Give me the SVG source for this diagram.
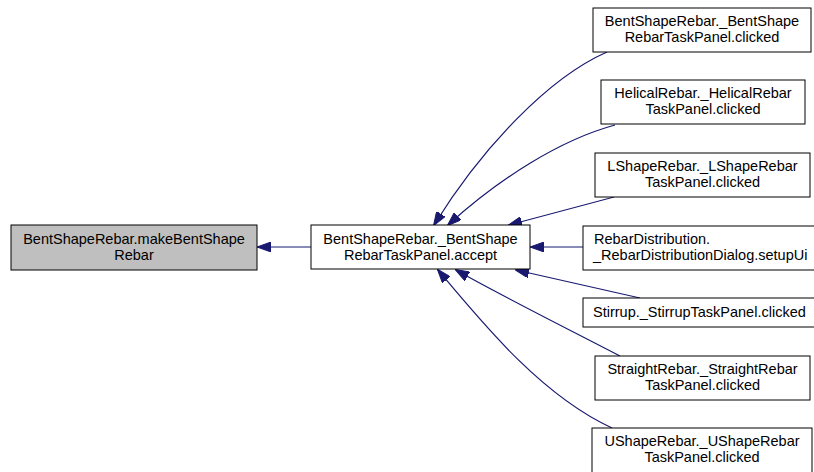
<svg xmlns="http://www.w3.org/2000/svg" width="814" height="472" viewBox="0 0 814 472">
  <style>
    .box { fill: #ffffff; stroke: #000000; stroke-width: 1; }
    .box.current { fill: #bfbfbf; }
    .label { font-family: "Liberation Sans", Arial, Helvetica, sans-serif; font-size: 14.5px; fill: #000000; }
    .c { text-anchor: middle; }
    .edge { fill: none; stroke: #191970; stroke-width: 1.2; }
  </style>
  <defs>
    <marker id="arrow" viewBox="0 0 14 10" refX="13" refY="5" markerWidth="14" markerHeight="10" markerUnits="userSpaceOnUse" orient="auto">
      <path d="M0,0 L14,5 L0,10 Z" fill="#191970" stroke="#191970" stroke-width="1"/>
    </marker>
  </defs>
  <rect width="814" height="472" fill="#ffffff"/>

  <!-- call edges: caller -> callee, arrowhead at the callee -->
  <g id="edges">
    <path class="edge" marker-end="url(#arrow)" d="M311,247 L258,247"/>
    <path class="edge" marker-end="url(#arrow)" d="M607,52 C548,78 482,148 434,225"/>
    <path class="edge" marker-end="url(#arrow)" d="M615,125 C560,140 500,178 448,225"/>
    <path class="edge" marker-end="url(#arrow)" d="M614,197 L509,225"/>
    <path class="edge" marker-end="url(#arrow)" d="M583,247 L531,247"/>
    <path class="edge" marker-end="url(#arrow)" d="M640,298 L516,270"/>
    <path class="edge" marker-end="url(#arrow)" d="M620,356 C570,330 500,295 456,270"/>
    <path class="edge" marker-end="url(#arrow)" d="M612,428 C540,395 480,320 438,270"/>
  </g>

  <g id="node-makeBentShapeRebar">
    <rect class="box current" x="11" y="225" width="246" height="45"/>
    <text class="label c" x="134" y="244">BentShapeRebar.makeBentShape</text>
    <text class="label c" x="134" y="260">Rebar</text>
  </g>

  <g id="node-accept">
    <rect class="box" x="311" y="225" width="219" height="44"/>
    <text class="label c" x="420.5" y="244">BentShapeRebar._BentShape</text>
    <text class="label c" x="420.5" y="260">RebarTaskPanel.accept</text>
  </g>

  <g id="node-bentshape-clicked">
    <rect class="box" x="593" y="8" width="218" height="44"/>
    <text class="label c" x="702" y="26">BentShapeRebar._BentShape</text>
    <text class="label c" x="702" y="42">RebarTaskPanel.clicked</text>
  </g>

  <g id="node-helical-clicked">
    <rect class="box" x="601" y="80" width="204" height="44"/>
    <text class="label c" x="703" y="98">HelicalRebar._HelicalRebar</text>
    <text class="label c" x="703" y="114">TaskPanel.clicked</text>
  </g>

  <g id="node-lshape-clicked">
    <rect class="box" x="595" y="153" width="215" height="44"/>
    <text class="label c" x="702.5" y="171">LShapeRebar._LShapeRebar</text>
    <text class="label c" x="702.5" y="187">TaskPanel.clicked</text>
  </g>

  <g id="node-distribution-setupUi">
    <rect class="box" x="583" y="226" width="240" height="44"/>
    <text class="label" x="594" y="244">RebarDistribution.</text>
    <text class="label" x="593" y="260">_RebarDistributionDialog.setupUi</text>
  </g>

  <g id="node-stirrup-clicked">
    <rect class="box" x="583" y="298" width="240" height="29"/>
    <text class="label" x="593" y="317">Stirrup._StirrupTaskPanel.clicked</text>
  </g>

  <g id="node-straight-clicked">
    <rect class="box" x="595" y="356" width="215" height="44"/>
    <text class="label c" x="702.5" y="374">StraightRebar._StraightRebar</text>
    <text class="label c" x="702.5" y="390">TaskPanel.clicked</text>
  </g>

  <g id="node-ushape-clicked">
    <rect class="box" x="592" y="428" width="220" height="50"/>
    <text class="label c" x="702" y="446">UShapeRebar._UShapeRebar</text>
    <text class="label c" x="702" y="462">TaskPanel.clicked</text>
  </g>
</svg>
